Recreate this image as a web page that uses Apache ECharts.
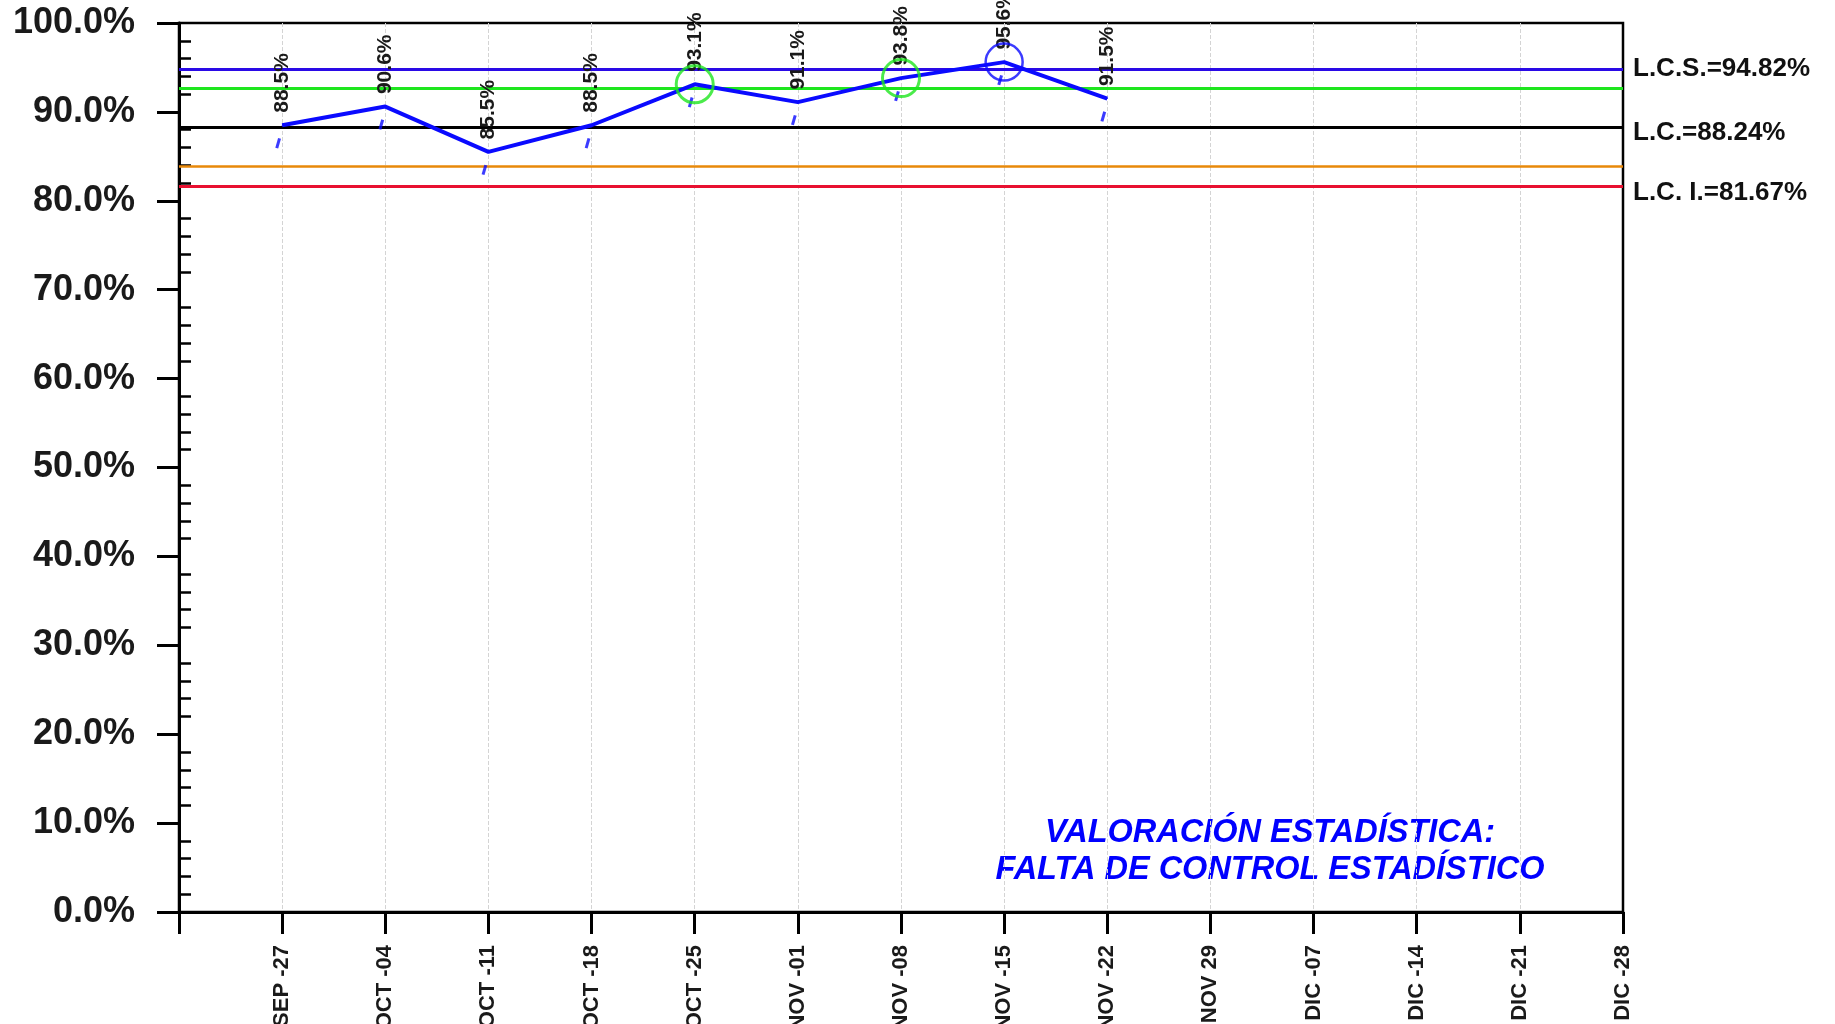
<!DOCTYPE html>
<html>
<head>
    <meta charset="utf-8">
    <title>Carta de control</title>
    <script src="https://cdn.jsdelivr.net/npm/echarts@6/dist/echarts.min.js"></script>
    <style>body { margin: 0; background: #fff; }</style>
</head>
<body>
    <div id="main" style="width:1835px; height:1024px"></div>
    <script type="text/javascript">
        // semanas del eje x (la primera posicion queda vacia, sobre el eje y)
        var weeks = ['SEP -27', 'OCT -04', 'OCT -11', 'OCT -18', 'OCT -25', 'NOV -01', 'NOV -08',
                     'NOV -15', 'NOV -22', 'NOV 29', 'DIC -07', 'DIC -14', 'DIC -21', 'DIC -28'];
        var values = [88.5, 90.6, 85.5, 88.5, 93.1, 91.1, 93.8, 95.6, 91.5];

        var lcs = 94.82;
        var lc = 88.24;
        var lci = 81.67;
        var upper2 = 92.63;   // 2 sigma superior
        var lower2 = 83.85;   // 2 sigma inferior

        var font = "'Liberation Sans', Arial, sans-serif";
        var myChart = echarts.init(document.getElementById('main'));

        var points = values.map(function (v, i) { return [weeks[i], v]; });
        var greenPts = points.filter(function (p) { return p[1] > upper2 && p[1] <= lcs; });
        var bluePts = points.filter(function (p) { return p[1] > lcs; });

        var minor = [];
        for (var m = 0; m <= 100; m += 2) { if (m % 10 !== 0) minor.push(m); }

        function limitLine(v, color, width, text, dy) {
            var item = {
                yAxis: v,
                lineStyle: { color: color, width: width, type: 'solid' },
                label: { show: false }
            };
            if (text) {
                item.label = {
                    show: true, position: 'end', distance: 10, offset: [0, dy],
                    formatter: text, color: '#111', fontSize: 26, fontWeight: 'bold', fontFamily: font
                };
            }
            return item;
        }

option = {
    animation: false,
    grid: {
        left: 179, right: 212, top: 23, bottom: 112,
        outerBoundsMode: 'none',
        containLabel: false,
        show: true, borderColor: '#000', borderWidth: 2.5
    },
    graphic: [{
        type: 'text',
        x: 1270, y: 815,
        style: {
            text: 'VALORACIÓN ESTADÍSTICA:\nFALTA DE CONTROL ESTADÍSTICO',
            fill: '#0000ff',
            font: 'italic bold 32.5px ' + font,
            textAlign: 'center',
            textVerticalAlign: 'top',
            lineHeight: 37
        }
    }],
    xAxis: {
        type: 'category',
        data: [''].concat(weeks),
        boundaryGap: false,
        axisLine: { lineStyle: { color: '#000', width: 3 } },
        axisTick: { length: 22, lineStyle: { color: '#000', width: 3 } },
        axisLabel: {
            rotate: 90, margin: 33, interval: 0,
            fontSize: 22, fontWeight: 'bold', color: '#1a1a1a', fontFamily: font
        },
        splitLine: {
            show: true,
            interval: function (i) { return i > 0 && i < weeks.length; },
            lineStyle: { color: '#d4d4d4', width: 1, type: 'dashed' }
        }
    },
    yAxis: [{
        type: 'value',
        min: 0, max: 100, interval: 10,
        axisLine: { show: true, lineStyle: { color: '#000', width: 3 } },
        axisTick: { show: true, length: 22, lineStyle: { color: '#000', width: 3 } },
        axisLabel: {
            margin: 44, fontSize: 36, fontWeight: 'bold', color: '#1a1a1a', fontFamily: font,
            formatter: function (v) { return v.toFixed(1) + '%'; }
        },
        splitLine: { show: false }
    }, {
        type: 'value',
        position: 'left',
        min: 0, max: 100, interval: 2,
        axisLine: { show: false },
        axisTick: { show: true, inside: true, length: 12, customValues: minor,
                    lineStyle: { color: '#000', width: 2.5 } },
        axisLabel: { show: false },
        splitLine: { show: false }
    }],
    series: [
        {
            name: 'valor',
            type: 'line',
            data: points,
            symbol: 'circle',
            symbolSize: 1,
            showSymbol: true,
            itemStyle: { color: '#0a0aff' },
            lineStyle: { color: '#0a0aff', width: 4 },
            z: 5,
            label: {
                show: true, position: 'top', distance: 12, rotate: 90,
                align: 'left', verticalAlign: 'middle',
                fontSize: 21, fontWeight: 'bold', color: '#1a1a1a', fontFamily: font,
                formatter: function (p) { return p.value[1].toFixed(1) + '%'; }
            },
            markLine: {
                silent: true,
                symbol: 'none',
                z: 3,
                data: [
                    limitLine(lcs, '#2a0ae6', 3, 'L.C.S.=' + lcs.toFixed(2) + '%', 0),
                    limitLine(upper2, '#1ee61e', 3, null, 0),
                    limitLine(lc, '#000000', 3, 'L.C.=' + lc.toFixed(2) + '%', 5),
                    limitLine(lower2, '#e8890a', 2.5, null, 0),
                    limitLine(lci, '#e81030', 3, 'L.C. I.=' + lci.toFixed(2) + '%', 7)
                ]
            }
        },
        {
            name: 'marca',
            type: 'scatter',
            data: points,
            symbol: 'rect',
            symbolSize: [3, 10],
            symbolRotate: -16,
            symbolOffset: [-4, 18],
            itemStyle: { color: '#0a0aff' },
            z: 4
        },
        {
            name: 'sobre 2 sigma',
            type: 'scatter',
            data: greenPts,
            symbol: 'circle',
            symbolSize: 37,
            itemStyle: { color: 'rgba(0,0,0,0)', borderColor: '#1ee61e', borderWidth: 3 },
            z: 6
        },
        {
            name: 'sobre LCS',
            type: 'scatter',
            data: bluePts,
            symbol: 'circle',
            symbolSize: 37,
            itemStyle: { color: 'rgba(0,0,0,0)', borderColor: '#0a0aff', borderWidth: 2.5 },
            z: 6
        }
    ]
};

        myChart.setOption(option);
    </script>
</body>
</html>
